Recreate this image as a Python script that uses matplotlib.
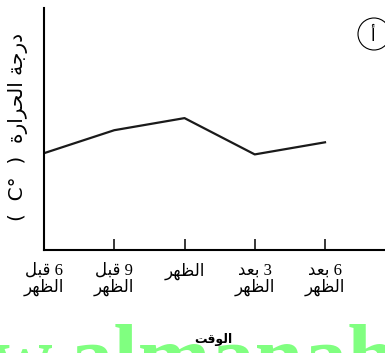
import matplotlib
matplotlib.use('Agg')
import matplotlib.pyplot as plt
from matplotlib.patches import Ellipse


# DATOS
# -----
x = [0, 1, 2, 3, 4]
temps = [4.0, 4.95, 5.45, 3.95, 4.45]
tick_lines = [['6 قبل', 'الظهر'],
              ['9 قبل', 'الظهر'],
              ['الظهر'],
              ['3 بعد', 'الظهر'],
              ['6 بعد', 'الظهر']]
y_label = 'درجة الحرارة'
x_label = 'الوقت'
panel = 'أ'
watermark = 'ww.almanah'

# formas de presentacion arabes (aislada, final, inicial, media)
forms = {
    'ا': (0xFE8D, 0xFE8E, None, None),
    'ب': (0xFE8F, 0xFE90, 0xFE91, 0xFE92),
    'ة': (0xFE93, 0xFE94, None, None),
    'ت': (0xFE95, 0xFE96, 0xFE97, 0xFE98),
    'ج': (0xFE9D, 0xFE9E, 0xFE9F, 0xFEA0),
    'ح': (0xFEA1, 0xFEA2, 0xFEA3, 0xFEA4),
    'د': (0xFEA9, 0xFEAA, None, None),
    'ر': (0xFEAD, 0xFEAE, None, None),
    'ظ': (0xFEC5, 0xFEC6, 0xFEC7, 0xFEC8),
    'ع': (0xFEC9, 0xFECA, 0xFECB, 0xFECC),
    'ق': (0xFED5, 0xFED6, 0xFED7, 0xFED8),
    'ل': (0xFEDD, 0xFEDE, 0xFEDF, 0xFEE0),
    'ه': (0xFEE9, 0xFEEA, 0xFEEB, 0xFEEC),
    'و': (0xFEED, 0xFEEE, None, None),
}


def shape(word):
    out = []
    for i, ch in enumerate(word):
        if ch not in forms:
            out.append(ch)
            continue
        iso, fin, ini, med = forms[ch]
        prev = word[i - 1] if i > 0 else None
        nxt = word[i + 1] if i + 1 < len(word) else None
        join_prev = prev in forms and forms[prev][2] is not None
        join_next = nxt in forms and ini is not None
        if join_prev and join_next:
            c = med
        elif join_prev:
            c = fin
        elif join_next:
            c = ini
        else:
            c = iso
        out.append(chr(c))
    return ''.join(reversed(out))


def rtl(text):
    return ' '.join(shape(w) for w in reversed(text.split(' ')))


fonts = ['Liberation Serif', 'DejaVu Sans']

fig = plt.figure(figsize=(3.85, 3.53), dpi=100)
# marca de agua verde cortada por el borde inferior
fig.text(397 / 385, 1 - 386 / 353, watermark, color='#80ff80', fontsize=63,
         family='Liberation Serif', weight='bold', ha='right', va='baseline',
         zorder=0)

ax = fig.add_axes([44 / 385, 103 / 353, 1 - 44 / 385, 242 / 353])
ax.patch.set_alpha(0)
ax.plot(x, temps, color='#1a1a1a', lw=1.6)
ax.set_xlim(0, 4.854)
ax.set_ylim(0, 10)
for s in ['top', 'right']:
    ax.spines[s].set_visible(False)
for s in ['left', 'bottom']:
    ax.spines[s].set_linewidth(1.5)
ax.set_yticks([])
ax.set_xticks(x)
ax.set_xticklabels(['\n'.join(rtl(t) for t in lines) for lines in tick_lines],
                   family=fonts, fontsize=12, linespacing=1.0)
ax.tick_params(axis='x', direction='in', length=8, width=1.1, pad=9)

fig.text(18 / 385, 1 - 127 / 353, '(  C°  )  ' + rtl(y_label), rotation=90,
         ha='center', va='center', fontsize=14.5, family=['DejaVu Sans'])
fig.text(213 / 385, 1 - 340 / 353, rtl(x_label), ha='center', va='center',
         fontsize=9, weight='bold', family=['DejaVu Sans'], zorder=5)

# circulo con la letra
fig.add_artist(Ellipse((374 / 385, 1 - 34 / 353), 32 / 385, 32 / 353,
                       transform=fig.transFigure, fill=False, lw=0.8))
fig.text(372 / 385, 1 - 36 / 353, panel, ha='center', va='center',
         fontsize=12, family=['DejaVu Sans'])

fig.savefig('out.png', dpi=100)
